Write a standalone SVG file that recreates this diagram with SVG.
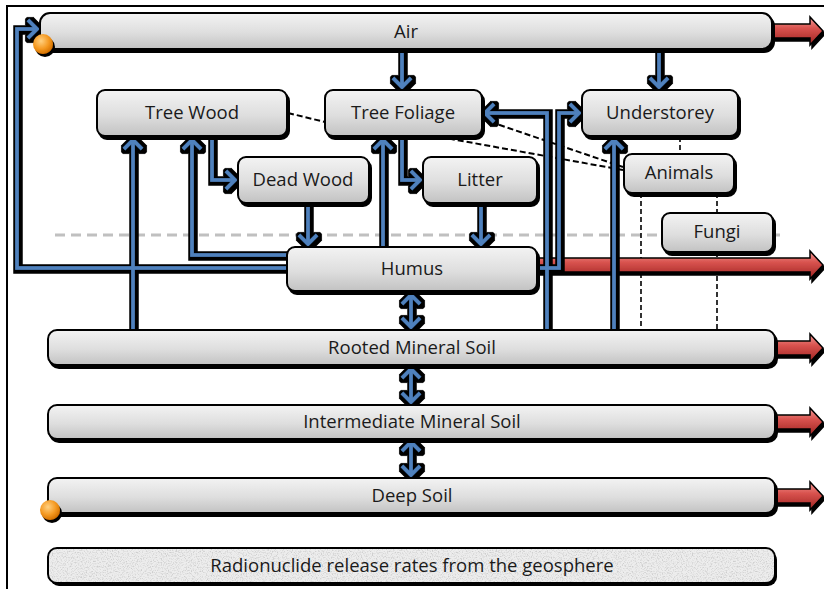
<svg xmlns="http://www.w3.org/2000/svg" width="824" height="589" viewBox="0 0 824 589">
<defs>
  <linearGradient id="gNode" x1="0" y1="0" x2="0" y2="1">
    <stop offset="0" stop-color="#f3f3f3"/>
    <stop offset="0.55" stop-color="#dedede"/>
    <stop offset="1" stop-color="#c2c2c2"/>
  </linearGradient>
  <linearGradient id="gRed" x1="0" y1="0" x2="0" y2="1">
    <stop offset="0" stop-color="#f29b97"/>
    <stop offset="0.4" stop-color="#d9534f"/>
    <stop offset="1" stop-color="#9e2320"/>
  </linearGradient>
  <radialGradient id="gOrange" cx="0.4" cy="0.35" r="0.65">
    <stop offset="0" stop-color="#ffd080"/>
    <stop offset="0.6" stop-color="#f59a23"/>
    <stop offset="1" stop-color="#d57200"/>
  </radialGradient>
  <filter id="shadow" x="-0.2" y="-0.3" width="1.4" height="1.6">
    <feOffset in="SourceAlpha" dx="2" dy="3" result="o"/>
    <feMerge><feMergeNode in="o"/><feMergeNode in="SourceGraphic"/></feMerge>
  </filter>
  <filter id="outline" filterUnits="userSpaceOnUse" x="0" y="0" width="824" height="589">
    <feMorphology in="SourceAlpha" operator="dilate" radius="3" result="d"/>
    <feOffset in="d" dx="0.5" dy="1" result="o"/>
    <feMerge><feMergeNode in="o"/><feMergeNode in="SourceGraphic"/></feMerge>
  </filter>
  <filter id="grain" x="0" y="0" width="1" height="1">
    <feTurbulence type="fractalNoise" baseFrequency="0.8" numOctaves="3" seed="7" result="n"/>
    <feColorMatrix in="n" type="matrix" values="0 0 0 0 0.62  0 0 0 0 0.62  0 0 0 0 0.62  3 0 0 0 -1.35" result="s"/>
    <feComposite in="s" in2="SourceGraphic" operator="atop"/>
  </filter>
  <style>
    .box{fill:url(#gNode);stroke:#000;stroke-width:2;filter:url(#shadow)}
    text{font-family:"Open Sans","Liberation Sans",sans-serif;font-size:18.5px;fill:#1a1a1a;text-anchor:middle}
    .flow{fill:none;stroke:#4f81bd;stroke-width:3.5;stroke-linejoin:miter;stroke-miterlimit:4}
    .out{fill:url(#gRed);stroke:#000;stroke-width:1.5;filter:url(#shadow)}
    .dash{fill:none;stroke:#000;stroke-width:2;stroke-dasharray:6 3}
    .vdash{fill:none;stroke:#000;stroke-width:1.6;stroke-dasharray:5 3}
    .grid{fill:none;stroke:#c0c0c0;stroke-width:3;stroke-dasharray:10 6}
    .src{fill:url(#gOrange);stroke:none;filter:url(#shadow)}
  </style>
</defs>

<rect width="824" height="589" fill="#fff"/>
<path d="M7,589 V6 H824" fill="none" stroke="#000" stroke-width="2"/>

<line class="grid" x1="55" y1="235" x2="780" y2="235"/>

<g id="connectors">
  <g id="dashed-links">
    <line class="dash" x1="288" y1="113" x2="325" y2="122"/>
    <line class="dash" x1="482" y1="119" x2="623" y2="167"/>
    <line class="dash" x1="440" y1="137" x2="623" y2="170"/>
    <line class="vdash" x1="680" y1="137" x2="680" y2="154"/>
    <line class="vdash" x1="641" y1="193" x2="641" y2="330"/>
    <line class="vdash" x1="717" y1="193" x2="717" y2="213"/>
    <line class="vdash" x1="717" y1="252" x2="717" y2="330"/>
  </g>
  <g id="outflows">
    <polygon class="out" points="765,24 810,24 810,17 823,31 810,45 810,38 765,38"/>
    <polygon class="out" points="530,258 810,258 810,251 823,265 810,279 810,272 530,272"/>
    <polygon class="out" points="770,341 810,341 810,334 823,348 810,362 810,355 770,355"/>
    <polygon class="out" points="770,415 810,415 810,408 823,422 810,436 810,429 770,429"/>
    <polygon class="out" points="770,489 810,489 810,482 823,496 810,510 810,503 770,503"/>
  </g>
  <g id="flows" filter="url(#outline)">
    <path class="flow" d="M402,48 V87 M393,78 L402,87 L411,78"/>
    <path class="flow" d="M659,48 V87 M650,78 L659,87 L668,78"/>
    <path class="flow" d="M292,268 H17 V29 H37 M28,20 L37,29 L28,38"/>
    <path class="flow" d="M292,255 H192 V140 M183,149 L192,140 L201,149"/>
    <path class="flow" d="M133,333 V140 M124,149 L133,140 L142,149"/>
    <path class="flow" d="M212,134 V180 H235 M226,171 L235,180 L226,189"/>
    <path class="flow" d="M308,201 V244 M299,235 L308,244 L317,235"/>
    <path class="flow" d="M383,250 V140 M374,149 L383,140 L392,149"/>
    <path class="flow" d="M402,134 V180 H420 M411,171 L420,180 L411,189"/>
    <path class="flow" d="M481,201 V244 M472,235 L481,244 L490,235"/>
    <path class="flow" d="M411,295 V327 M402,304 L411,295 L420,304 M402,318 L411,327 L420,318"/>
    <path class="flow" d="M411,369 V402 M402,378 L411,369 L420,378 M402,393 L411,402 L420,393"/>
    <path class="flow" d="M411,442 V475 M402,451 L411,442 L420,451 M402,466 L411,475 L420,466"/>
    <path class="flow" d="M547,333 V113 H485 M494,104 L485,113 L494,122"/>
    <path class="flow" d="M534,268 H559 V113 H579 M570,104 L579,113 L570,122"/>
    <path class="flow" d="M614,333 V140 M605,149 L614,140 L623,149"/>
  </g>
</g>

<g id="air">
  <rect class="box" x="40" y="13" width="732" height="36" rx="10"/>
  <text x="406" y="38">Air</text>
  <circle class="src" cx="43" cy="44" r="10"/>
</g>
<g id="tree-wood">
  <rect class="box" x="97" y="90" width="190" height="46" rx="8"/>
  <text x="192" y="119">Tree Wood</text>
</g>
<g id="tree-foliage">
  <rect class="box" x="325" y="90" width="157" height="46" rx="8"/>
  <text x="403" y="119">Tree Foliage</text>
</g>
<g id="understorey">
  <rect class="box" x="582" y="90" width="156" height="46" rx="8"/>
  <text x="660" y="119">Understorey</text>
</g>
<g id="dead-wood">
  <rect class="box" x="238" y="157" width="131" height="46" rx="8"/>
  <text x="303" y="186">Dead Wood</text>
</g>
<g id="litter">
  <rect class="box" x="423" y="157" width="114" height="46" rx="8"/>
  <text x="480" y="186">Litter</text>
</g>
<g id="animals">
  <rect class="box" x="624" y="154" width="110" height="39" rx="8"/>
  <text x="679" y="179">Animals</text>
</g>
<g id="fungi">
  <rect class="box" x="662" y="213" width="111" height="39" rx="8"/>
  <text x="717" y="238">Fungi</text>
</g>
<g id="humus">
  <rect class="box" x="287" y="247" width="250" height="44" rx="8"/>
  <text x="412" y="275">Humus</text>
</g>
<g id="rooted-mineral-soil">
  <rect class="box" x="48" y="330" width="727" height="35" rx="9"/>
  <text x="412" y="354">Rooted Mineral Soil</text>
</g>
<g id="intermediate-mineral-soil">
  <rect class="box" x="48" y="405" width="727" height="34" rx="9"/>
  <text x="412" y="428">Intermediate Mineral Soil</text>
</g>
<g id="deep-soil">
  <rect class="box" x="48" y="478" width="727" height="35" rx="9"/>
  <text x="412" y="502">Deep Soil</text>
  <circle class="src" cx="50" cy="510" r="10"/>
</g>
<g id="geosphere-release">
  <rect x="48" y="548" width="727" height="35" rx="9" fill="#000" transform="translate(2,3)"/>
  <rect x="48" y="548" width="727" height="35" rx="9" fill="#ededed" filter="url(#grain)"/>
  <rect x="48" y="548" width="727" height="35" rx="9" fill="none" stroke="#000" stroke-width="2"/>
  <text x="412" y="572">Radionuclide release rates from the geosphere</text>
</g>
</svg>
